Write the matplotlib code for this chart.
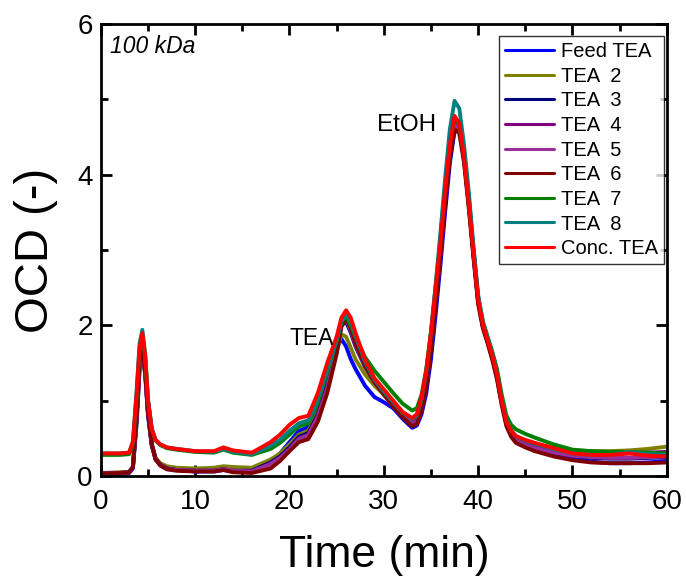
import matplotlib
matplotlib.use("Agg")
import matplotlib.pyplot as plt
from matplotlib.ticker import MultipleLocator

plt.rcParams['font.family'] = ['Liberation Sans', 'DejaVu Sans']

time = [0, 2, 3, 3.4, 3.8, 4.1, 4.4, 4.7, 5.0, 5.4, 5.8, 6.3, 7, 8, 10, 12, 13, 14, 16, 18,
        19, 20, 21, 22, 23, 24, 25, 25.5, 26, 26.5, 27, 28, 29, 30, 31, 32, 33, 33.5, 34, 34.5,
        35, 35.5, 36, 36.5, 37, 37.5, 38, 38.5, 39, 39.5, 40, 40.5, 41, 41.5, 42, 42.5, 43, 43.5,
        44, 45, 46, 48, 50, 52, 54, 56, 58, 60]

feed_tea = [0.02, 0.03, 0.04, 0.10, 0.70, 1.40, 1.65, 1.35, 0.80, 0.40, 0.22, 0.15, 0.10, 0.08, 0.06, 0.06, 0.08, 0.06, 0.06, 0.20,
            0.30, 0.45, 0.60, 0.65, 0.90, 1.30, 1.70, 1.82, 1.72, 1.55, 1.42, 1.20, 1.05, 0.98, 0.90, 0.76, 0.64, 0.67, 0.82, 1.10,
            1.55, 2.15, 2.80, 3.50, 4.15, 4.58, 4.65, 4.30, 3.70, 3.00, 2.35, 2.00, 1.80, 1.60, 1.35, 1.00, 0.72, 0.58,
            0.50, 0.43, 0.38, 0.30, 0.24, 0.19, 0.17, 0.17, 0.18, 0.20]
tea_2 = [0.04, 0.05, 0.05, 0.12, 0.75, 1.40, 1.60, 1.35, 0.82, 0.42, 0.24, 0.17, 0.13, 0.11, 0.10, 0.11, 0.13, 0.12, 0.11, 0.22,
         0.30, 0.42, 0.55, 0.60, 0.85, 1.20, 1.65, 1.88, 1.85, 1.70, 1.55, 1.35, 1.20, 1.08, 0.95, 0.82, 0.72, 0.75, 0.92, 1.25,
         1.75, 2.35, 3.00, 3.70, 4.30, 4.68, 4.62, 4.22, 3.62, 2.95, 2.32, 2.00, 1.80, 1.60, 1.34, 1.00, 0.74, 0.60,
         0.53, 0.46, 0.42, 0.38, 0.34, 0.33, 0.33, 0.34, 0.36, 0.39]
tea_3 = [0.03, 0.04, 0.05, 0.12, 0.80, 1.50, 1.72, 1.40, 0.85, 0.42, 0.23, 0.15, 0.10, 0.08, 0.07, 0.07, 0.09, 0.07, 0.07, 0.18,
         0.26, 0.38, 0.52, 0.57, 0.82, 1.20, 1.70, 2.00, 2.05, 1.90, 1.72, 1.45, 1.25, 1.10, 0.95, 0.82, 0.70, 0.73, 0.90, 1.22,
         1.72, 2.32, 2.98, 3.68, 4.30, 4.68, 4.62, 4.22, 3.62, 2.95, 2.32, 2.00, 1.80, 1.58, 1.32, 0.98, 0.70, 0.56,
         0.48, 0.42, 0.38, 0.32, 0.27, 0.24, 0.23, 0.23, 0.24, 0.25]
tea_4 = [0.03, 0.04, 0.05, 0.12, 0.78, 1.48, 1.70, 1.38, 0.84, 0.42, 0.23, 0.15, 0.10, 0.08, 0.07, 0.07, 0.09, 0.07, 0.06, 0.16,
         0.24, 0.36, 0.50, 0.55, 0.80, 1.18, 1.70, 2.02, 2.10, 1.95, 1.75, 1.47, 1.26, 1.10, 0.95, 0.82, 0.70, 0.73, 0.90, 1.22,
         1.72, 2.32, 2.98, 3.68, 4.30, 4.70, 4.64, 4.24, 3.64, 2.96, 2.33, 2.00, 1.80, 1.58, 1.32, 0.98, 0.70, 0.56,
         0.49, 0.43, 0.39, 0.34, 0.30, 0.29, 0.29, 0.30, 0.31, 0.32]
tea_5 = [0.03, 0.04, 0.05, 0.12, 0.78, 1.46, 1.68, 1.37, 0.83, 0.41, 0.22, 0.14, 0.09, 0.08, 0.07, 0.07, 0.09, 0.07, 0.06, 0.16,
         0.24, 0.35, 0.49, 0.54, 0.78, 1.16, 1.68, 2.00, 2.08, 1.93, 1.74, 1.46, 1.25, 1.09, 0.94, 0.81, 0.69, 0.72, 0.89, 1.20,
         1.70, 2.30, 2.96, 3.66, 4.28, 4.66, 4.60, 4.20, 3.60, 2.94, 2.31, 1.98, 1.78, 1.56, 1.30, 0.96, 0.68, 0.54,
         0.47, 0.41, 0.37, 0.31, 0.27, 0.25, 0.24, 0.24, 0.25, 0.26]
tea_6 = [0.03, 0.04, 0.05, 0.12, 0.80, 1.50, 1.71, 1.40, 0.85, 0.42, 0.22, 0.14, 0.09, 0.07, 0.06, 0.06, 0.08, 0.05, 0.04, 0.10,
         0.20, 0.33, 0.45, 0.49, 0.72, 1.10, 1.62, 1.98, 2.10, 1.96, 1.76, 1.47, 1.25, 1.08, 0.92, 0.78, 0.66, 0.69, 0.86, 1.17,
         1.66, 2.26, 2.92, 3.62, 4.22, 4.60, 4.55, 4.16, 3.56, 2.90, 2.28, 1.96, 1.76, 1.54, 1.28, 0.94, 0.66, 0.52,
         0.44, 0.38, 0.33, 0.26, 0.21, 0.18, 0.17, 0.17, 0.17, 0.18]
tea_7 = [0.28, 0.28, 0.29, 0.42, 1.05, 1.65, 1.86, 1.58, 1.00, 0.62, 0.47, 0.41, 0.37, 0.35, 0.32, 0.31, 0.35, 0.31, 0.28, 0.36,
         0.44, 0.55, 0.66, 0.70, 0.98, 1.38, 1.80, 2.05, 2.12, 2.00, 1.85, 1.58, 1.40, 1.25, 1.10, 0.96, 0.87, 0.90, 1.08, 1.42,
         1.92, 2.52, 3.15, 3.85, 4.42, 4.76, 4.66, 4.24, 3.66, 3.00, 2.38, 2.05, 1.85, 1.65, 1.42, 1.08, 0.80, 0.68,
         0.62, 0.56, 0.51, 0.42, 0.35, 0.33, 0.32, 0.32, 0.31, 0.30]
tea_8 = [0.30, 0.30, 0.31, 0.46, 1.15, 1.75, 1.94, 1.62, 1.02, 0.63, 0.48, 0.42, 0.38, 0.36, 0.33, 0.32, 0.36, 0.32, 0.29, 0.40,
         0.48, 0.60, 0.70, 0.74, 1.02, 1.42, 1.80, 2.05, 2.15, 2.05, 1.86, 1.52, 1.28, 1.12, 0.98, 0.84, 0.76, 0.80, 1.02, 1.38,
         1.90, 2.55, 3.22, 3.95, 4.60, 4.98, 4.88, 4.40, 3.78, 3.06, 2.40, 2.05, 1.84, 1.63, 1.38, 1.02, 0.74, 0.60,
         0.53, 0.47, 0.43, 0.36, 0.30, 0.28, 0.28, 0.32, 0.29, 0.28]
conc_tea = [0.30, 0.30, 0.31, 0.45, 1.10, 1.70, 1.90, 1.60, 1.00, 0.62, 0.48, 0.42, 0.38, 0.36, 0.33, 0.33, 0.38, 0.34, 0.31, 0.45,
            0.55, 0.68, 0.77, 0.80, 1.10, 1.50, 1.85, 2.10, 2.20, 2.10, 1.90, 1.55, 1.30, 1.15, 1.00, 0.85, 0.77, 0.82, 1.05, 1.40,
            1.90, 2.50, 3.10, 3.80, 4.40, 4.78, 4.68, 4.24, 3.64, 2.98, 2.35, 2.02, 1.80, 1.60, 1.35, 1.00, 0.72, 0.60,
            0.53, 0.48, 0.44, 0.37, 0.30, 0.28, 0.28, 0.30, 0.27, 0.26]

series = [
    ("Feed TEA", feed_tea, "#0000FF"),
    ("TEA  2", tea_2, "#808000"),
    ("TEA  3", tea_3, "#000080"),
    ("TEA  4", tea_4, "#800080"),
    ("TEA  5", tea_5, "#9A2E9A"),
    ("TEA  6", tea_6, "#800000"),
    ("TEA  7", tea_7, "#008000"),
    ("TEA  8", tea_8, "#008080"),
    ("Conc. TEA", conc_tea, "#FF0000"),
]

fig = plt.figure(figsize=(6.86, 5.83), dpi=100)
ax = fig.add_axes([0.147, 0.1835, 0.825, 0.7753])

for label, vals, color in series:
    ax.plot(time, vals, color=color, lw=2.8, label=label,
            solid_joinstyle='round', solid_capstyle='round')

ax.set_xlim(0, 60)
ax.set_ylim(0, 6)
ax.xaxis.set_major_locator(MultipleLocator(10))
ax.xaxis.set_minor_locator(MultipleLocator(5))
ax.yaxis.set_major_locator(MultipleLocator(2))
ax.yaxis.set_minor_locator(MultipleLocator(1))
ax.tick_params(which='both', direction='in', top=True, right=True, width=2, labelsize=20)
ax.tick_params(axis='x', pad=9)
ax.tick_params(axis='y', pad=6)
ax.tick_params(which='major', length=8)
ax.tick_params(which='minor', length=5)
for sp in ax.spines.values():
    sp.set_linewidth(2)

ax.set_xlabel("Time (min)", fontsize=32, labelpad=15)
ax.set_ylabel("OCD (-)", fontsize=34, labelpad=14)

ax.text(0.016, 0.975, "100 kDa", transform=ax.transAxes, fontsize=16.5, style='italic',
        va='top', ha='left')
ax.text(24.7, 1.83, "TEA", fontsize=16.5, ha='right', va='center')
ax.text(35.5, 4.66, "EtOH", fontsize=17.5, ha='right', va='center')

leg = ax.legend(loc='upper right', bbox_to_anchor=(0.9947, 0.9735), fontsize=14.5,
                frameon=True, fancybox=False, edgecolor='black',
                handlelength=2.4, handletextpad=0.35, labelspacing=0.28, borderpad=0.3,
                borderaxespad=0.0)
leg.get_frame().set_linewidth(1)
for h in leg.get_lines():
    h.set_linewidth(2.2)

fig.savefig("out.png", dpi=100)
